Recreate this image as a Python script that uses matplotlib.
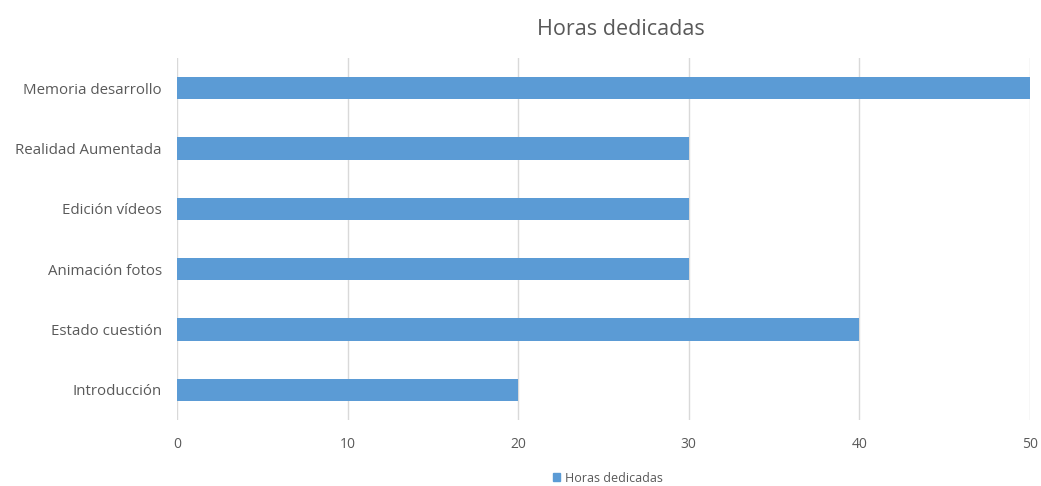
import matplotlib
matplotlib.use("Agg")
import matplotlib.pyplot as plt
from matplotlib.patches import Patch

categories = ["Introducción", "Estado cuestión", "Animación fotos",
              "Edición vídeos", "Realidad Aumentada", "Memoria desarrollo"]
hours = [20, 40, 30, 30, 30, 50]
series_name = "Horas dedicadas"
xticks = [0, 10, 20, 30, 40, 50]

plt.rcParams['font.family'] = ['Open Sans', 'DejaVu Sans']
txt = '#595959'
bar_color = '#5B9BD5'

fig = plt.figure(figsize=(10.41, 4.86), dpi=100)
ax = fig.add_axes([0.170, 0.136, 0.8194, 0.745])
ax.barh(range(len(categories)), hours, height=0.37, color=bar_color, zorder=3)
ax.set_xlim(0, 50)
ax.set_ylim(-0.5, len(categories) - 0.5)
ax.set_xticks(xticks)
ax.set_xticklabels([str(v) for v in xticks], color=txt, fontsize=10)
ax.set_yticks(range(len(categories)))
ax.set_yticklabels(categories, color=txt, fontsize=10.8)
ax.tick_params(axis='both', length=0)
ax.tick_params(axis='x', pad=12)
ax.tick_params(axis='y', pad=11)
ax.grid(axis='x', color='#D9D9D9', linewidth=1, zorder=0)
for s in ax.spines.values():
    s.set_visible(False)

fig.text(0.596, 0.94, series_name, ha='center', va='center', fontsize=15.5, color=txt)
fig.legend(handles=[Patch(color=bar_color, label=series_name)],
           loc='center', bbox_to_anchor=(0.584, 0.016), frameon=False,
           fontsize=9, labelcolor=txt, handlelength=0.6, handleheight=0.6,
           handletextpad=0.4)

fig.savefig("out.png", dpi=100)
